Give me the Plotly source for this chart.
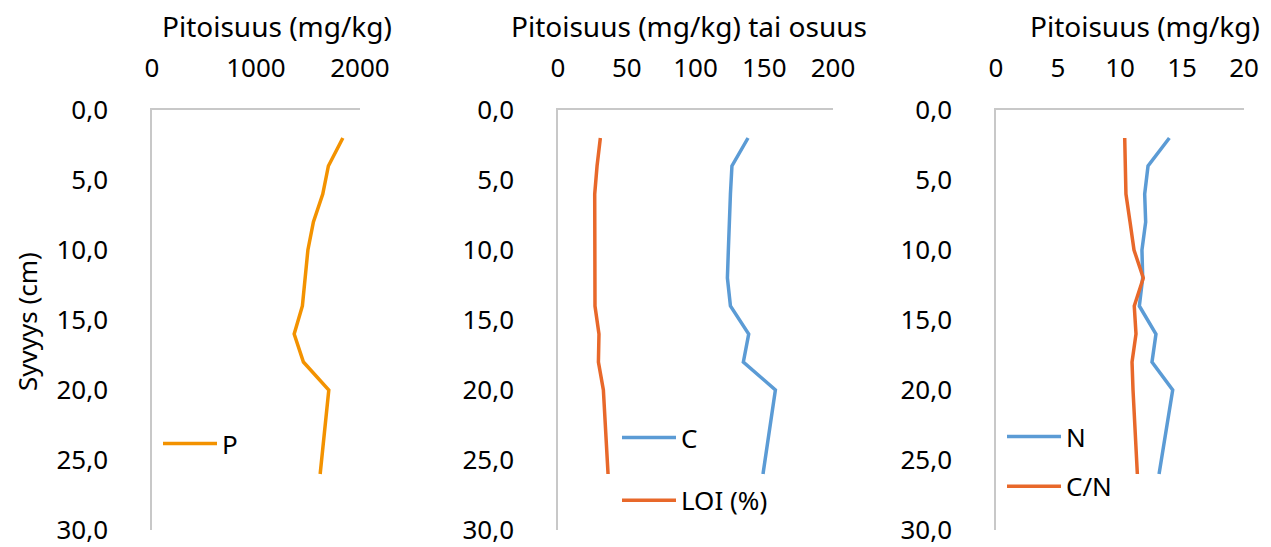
import plotly.graph_objects as go

# the page body has an 8 px margin, so the figure is drawn 8 px smaller
OFF = 8
W, H = 1271 - OFF, 547 - OFF

depth = [2, 4, 6, 8, 10, 12, 14, 16, 18, 20, 26]
p_vals = [1835, 1696, 1642, 1552, 1499, 1473, 1446, 1367, 1456, 1700, 1617]
c_vals = [138.2, 126.5, 125.4, 124.4, 123.9, 123.2, 125.4, 138.7, 134.8, 158.1, 149.1]
loi_vals = [30.8, 28.4, 26.7, 26.7, 26.5, 26.5, 26.9, 29.8, 29.4, 33.0, 36.4]
n_vals = [13.98, 12.26, 11.99, 12.07, 11.77, 11.83, 11.56, 12.9, 12.58, 14.25, 13.15]
cn_vals = [10.38, 10.40, 10.48, 10.81, 11.13, 11.88, 11.15, 11.29, 10.97, 11.05, 11.40]

x_titles = ["Pitoisuus (mg/kg)", "Pitoisuus (mg/kg) tai osuus", "Pitoisuus (mg/kg)"]
y_title = "Syvyys (cm)"

FONT = "Noto Sans, Open Sans, Arial"
FS = 26
FS_TITLE = 28
ORANGE = "#F39200"
BLUE = "#5B9BD5"
RED = "#E8682A"
AXIS_GRAY = "#C8C8C8"

# pixel layout of the three panels (window coordinates)
x_px = [(152, 360), (558, 833), (996, 1244)]
y_px = (110, 530)
x_ranges = [[0, 2000], [0, 200], [0, 20]]
x_dtick = [1000, 50, 5]


def fx(px):
    return (px - OFF) / W


def fy(py):
    return 1 - (py - OFF) / H


fig = go.Figure()

series = [
    (1, "P", p_vals, ORANGE, "legend"),
    (2, "C", c_vals, BLUE, "legend2"),
    (2, "LOI (%)", loi_vals, RED, "legend2"),
    (3, "N", n_vals, BLUE, "legend3"),
    (3, "C/N", cn_vals, RED, "legend3"),
]
for panel, name, vals, col, leg in series:
    suffix = "" if panel == 1 else str(panel)
    fig.add_trace(
        go.Scatter(
            x=vals,
            y=depth,
            mode="lines",
            name=name,
            line=dict(color=col, width=3.5),
            xaxis="x" + suffix,
            yaxis="y" + suffix,
            legend=leg,
            legendgroup=name,
        )
    )

layout = dict(
    template="none",
    width=W,
    height=H,
    autosize=False,
    paper_bgcolor="white",
    plot_bgcolor="white",
    margin=dict(l=0, r=0, t=0, b=0, pad=0),
    separators=", ",
    font=dict(family=FONT, size=FS, color="#000000"),
    showlegend=True,
)

axis_common = dict(
    showgrid=False,
    zeroline=False,
    showline=True,
    linecolor=AXIS_GRAY,
    linewidth=1.5,
    ticks="outside",
    tickcolor="rgba(0,0,0,0)",
    tickfont=dict(size=FS),
    ticklabeloverflow="allow",
    automargin=False,
    fixedrange=True,
)

for k in range(3):
    suffix = "" if k == 0 else str(k + 1)
    x0, x1 = x_px[k]
    layout["xaxis" + suffix] = dict(
        axis_common,
        domain=[fx(x0), fx(x1)],
        range=x_ranges[k],
        dtick=x_dtick[k],
        side="top",
        anchor="y" + suffix,
        ticklen=21,
    )
    layout["yaxis" + suffix] = dict(
        axis_common,
        domain=[fy(y_px[1]), fy(y_px[0])],
        range=[30, 0],
        dtick=5,
        tickformat=".1f",
        anchor="x" + suffix,
        ticklen=37,
    )

legend_base = dict(
    bgcolor="rgba(0,0,0,0)",
    font=dict(size=FS),
    xanchor="left",
    yanchor="top",
    itemwidth=54,
    tracegroupgap=26,
)
layout["legend"] = dict(legend_base, x=fx(158), y=fy(420))
layout["legend2"] = dict(legend_base, x=fx(617), y=fy(414))
layout["legend3"] = dict(legend_base, x=fx(1002), y=fy(413), tracegroupgap=13)

fig.update_layout(**layout)

title_centers = [277, 689, 1145]
for k, t in enumerate(x_titles):
    fig.add_annotation(
        text=t, x=fx(title_centers[k]), y=fy(26), xref="paper", yref="paper",
        showarrow=False, xanchor="center", yanchor="middle",
        font=dict(size=FS_TITLE),
    )

fig.add_annotation(
    text=y_title, x=fx(27), y=fy(322), xref="paper", yref="paper",
    showarrow=False, textangle=-90, xanchor="center", yanchor="middle",
    font=dict(size=FS),
)

fig.write_html("out.html")
